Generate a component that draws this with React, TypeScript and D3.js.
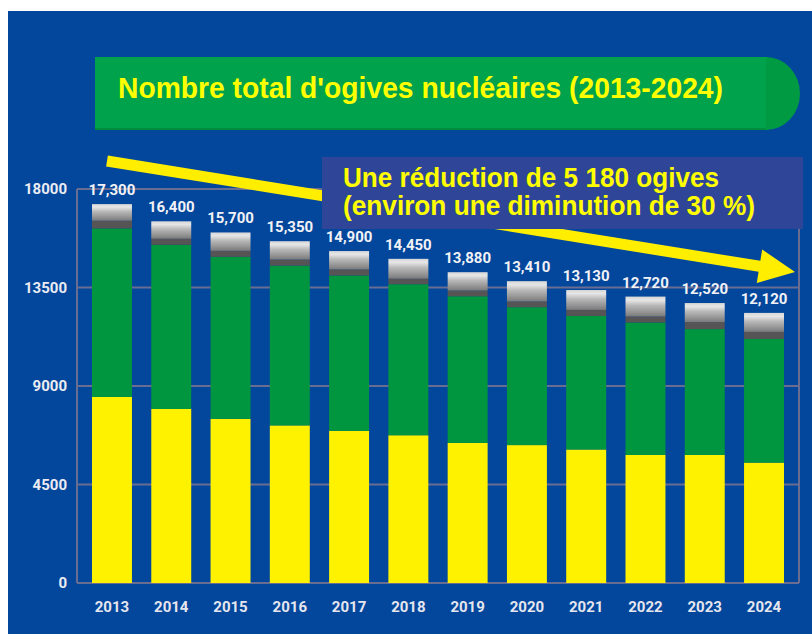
import React from 'react'
import * as d3 from 'd3'

// values
const years = ['2013', '2014', '2015', '2016', '2017', '2018', '2019', '2020', '2021', '2022', '2023', '2024']
const russie = [8500, 7950, 7500, 7200, 6950, 6750, 6400, 6300, 6100, 5850, 5850, 5500]
const etatsUnis = [7700, 7500, 7400, 7300, 7100, 6900, 6700, 6300, 6100, 6050, 5750, 5650]
const autresA = [350, 275, 275, 275, 275, 250, 260, 260, 275, 275, 320, 320]
const autresB = [760, 800, 840, 840, 840, 910, 840, 930, 910, 910, 870, 870]
const totals = [17300, 16400, 15700, 15350, 14900, 14450, 13880, 13410, 13130, 12720, 12520, 12120]
const yTicks = [0, 4500, 9000, 13500, 18000]

const keys = ['russie', 'etatsUnis', 'autresA', 'autresB']
const fills: Record<string, string> = {
  russie: '#fff200',
  etatsUnis: '#00963f',
  autresA: '#565454',
  autresB: 'url(#greyGrad)',
}

const W = 812
const H = 634

const App = () => {
  const rows = years.map((y, i) => ({
    year: y,
    russie: russie[i],
    etatsUnis: etatsUnis[i],
    autresA: autresA[i],
    autresB: autresB[i],
  }))
  const series = d3.stack<any>().keys(keys)(rows)

  const x = d3.scaleBand().domain(years).range([77, 799]).paddingInner(0.326).paddingOuter(0.253)
  const y = d3.scaleLinear().domain([0, 18000]).range([583, 189])

  // arrow geometry (annotation)
  const a0 = [107, 161]
  const tip = [795, 272]
  const len = Math.hypot(tip[0] - a0[0], tip[1] - a0[1])
  const u = [(tip[0] - a0[0]) / len, (tip[1] - a0[1]) / len]
  const n = [-u[1], u[0]]
  const headLen = 36
  const base = [tip[0] - u[0] * headLen, tip[1] - u[1] * headLen]
  const sw = 5.5
  const hw = 17
  const pt = (p: number[], k: number) => `${p[0] + n[0] * k},${p[1] + n[1] * k}`
  const arrowPts = [
    pt(a0, -sw), pt(base, -sw), pt(base, -hw), `${tip[0]},${tip[1]}`,
    pt(base, hw), pt(base, sw), pt(a0, sw),
  ].join(' ')

  const fmt = d3.format(',')

  return (
    <div style={{ position: 'absolute', left: 0, top: 0 }}>
      <svg width={W} height={H} style={{ display: 'block' }}>
        <defs>
          <linearGradient id="greyGrad" x1="0" y1="0" x2="0" y2="1">
            <stop offset="0" stopColor="#d6d6d6" />
            <stop offset="0.18" stopColor="#e6e6e6" />
            <stop offset="0.45" stopColor="#b8b8b8" />
            <stop offset="0.75" stopColor="#979797" />
            <stop offset="1" stopColor="#7a7a7a" />
          </linearGradient>
        </defs>
        <rect x={0} y={0} width={W} height={H} fill="#ffffff" />
        <rect x={8} y={11} width={W - 8} height={H - 11} fill="#02479c" />

        {/* title banner */}
        <rect x={95} y={57} width={673} height={73} fill="#00a34b" />
        <path d="M766,57 A34,36.5 0 0 1 766,130 Z" fill="#009a42" />
        <rect x={95} y={128} width={671} height={2} fill="#008e3c" />
        <text x={118} y={98} fill="#ffff00" fontFamily="'Liberation Sans', Arial, sans-serif"
          fontWeight="bold" fontSize={30} textLength={605} lengthAdjust="spacingAndGlyphs">
          Nombre total d'ogives nucléaires (2013-2024)
        </text>

        {/* grid */}
        <g stroke="#6a6d92" strokeWidth={2} fill="none">
          {yTicks.map(t => (
            <line key={t} x1={77} x2={799} y1={y(t)} y2={y(t)} />
          ))}
          <line x1={77} x2={77} y1={y(18000)} y2={y(0)} />
          <line x1={799} x2={799} y1={y(18000)} y2={y(0)} />
        </g>
        <g fill="#ececf2" fontFamily="Roboto, sans-serif" fontWeight="bold" fontSize={15} textAnchor="end">
          {yTicks.map(t => (
            <text key={t} x={67} y={y(t)} dy="0.36em">{t}</text>
          ))}
        </g>

        {/* bars */}
        {series.map(s => (
          <g key={s.key} fill={fills[s.key]}>
            {s.map((d, i) => (
              <rect key={i} x={x(years[i])} width={x.bandwidth()} y={y(d[1])} height={y(d[0]) - y(d[1])} />
            ))}
          </g>
        ))}

        {/* totals */}
        <g fill="#f2f2f6" fontFamily="Roboto, sans-serif" fontWeight="bold" fontSize={15} textAnchor="middle">
          {years.map((yr, i) => (
            <text key={yr} x={(x(yr) as number) + x.bandwidth() / 2}
              y={y(series[series.length - 1][i][1]) - 9}>{fmt(totals[i])}</text>
          ))}
        </g>

        {/* x labels */}
        <g fill="#e6e6ee" fontFamily="Roboto, sans-serif" fontWeight="bold" fontSize={15} textAnchor="middle">
          {years.map(yr => (
            <text key={yr} x={(x(yr) as number) + x.bandwidth() / 2} y={612}>{yr}</text>
          ))}
        </g>

        {/* arrow */}
        <polygon points={arrowPts} fill="#ffee00" />

        {/* annotation box */}
        <rect x={322} y={157} width={481} height={72} fill="#2f4598" />
        <g fill="#ffff00" fontFamily="'Liberation Sans', Arial, sans-serif" fontWeight="bold" fontSize={28}>
          <text x={343} y={187} textLength={376} lengthAdjust="spacingAndGlyphs">Une réduction de 5 180 ogives</text>
          <text x={343} y={215} textLength={412} lengthAdjust="spacingAndGlyphs">(environ une diminution de 30 %)</text>
        </g>
      </svg>
    </div>
  )
}

export default App
